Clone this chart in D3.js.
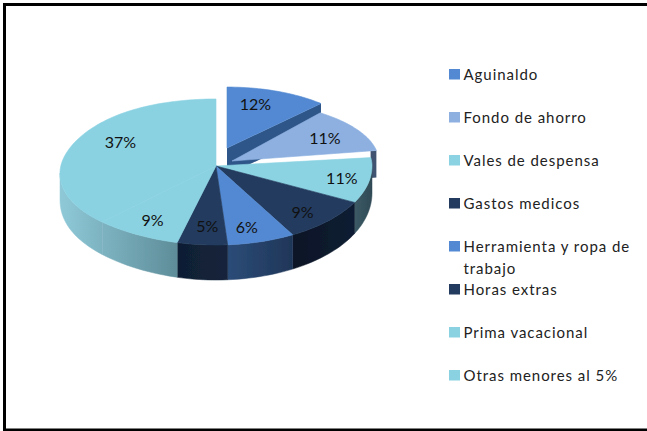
<!DOCTYPE html>
<html><head><meta charset="utf-8">
<script src="https://cdn.jsdelivr.net/npm/d3@7/dist/d3.min.js"></script>
<style>html,body{margin:0;padding:0;background:#fff}svg{display:block}</style></head>
<body><div id="chart"></div>
<script>
const categories = ["Aguinaldo","Fondo de ahorro","Vales de despensa","Gastos medicos","Herramienta y ropa de trabajo","Horas extras","Prima vacacional","Otras menores al 5%"];
const values = [12,11,11,9,6,5,9,37];
const topColors = ["#5289d2","#8db0e0","#8bd3e3","#223b5e","#5289d2","#223b5e","#8ad2e2","#8ad2e2"];
const wallFrom = ["#2f5688","#3f5370","#3c5a66","#0c1626","#2c4c78","#101e33","#8fc9d8","#8fc9d8"];
const wallTo = ["#2f5688","#3f5370","#2f4a55","#101d31","#1f3658","#14243b","#5e8d99","#5e8d99"];
const W=647,H=431,cx=216,cy=166,rx=156,ryUp=67,ryDown=79,depthSide=27,depthFront=35,leftSag=7,frontWarp=.096;
const pulls={0:{dx:11,dy:-18,sx:.88,sy:.91,turn:[0,0]},1:{dx:16,dy:-5,sx:.94,sy:.9,turn:[-.108,-.05]}};
const cutFrom={0:0,1:.96};
const labelNudge=[[-12,2],[-7,3],[3,1],[-4.5,3],[-5.7,1],[3,-2],[0,0],[19,-6]];
const svg=d3.select("#chart").append("svg").attr("width",W).attr("height",H);
const defs=svg.append("defs");
defs.append("filter").attr("id","soft").append("feGaussianBlur").attr("stdDeviation",.5);
svg.append("rect").attr("x",4.5).attr("y",4.5).attr("width",W+10).attr("height",H-5.5)
  .attr("fill","#fff").attr("stroke","#000").attr("stroke-width",3);
const arcs=d3.pie().sort(null).value(d=>d)(values);
function proj(a0,r,i){
  const p=pulls[i]||{dx:0,dy:0,sx:1,sy:1};
  let a=a0;
  if(pulls[i]){const d=arcs[i],t=(a0-d.startAngle)/(d.endAngle-d.startAngle);a=a0+p.turn[0]+(p.turn[1]-p.turn[0])*t;}
  else if(a>Math.PI/2&&a<Math.PI) a-=frontWarp*Math.sin(2*(a-Math.PI/2));
  const c=Math.cos(a),s=Math.sin(a);
  const sag=s<0?leftSag*Math.pow(s,4)*r:0;
  return [cx+p.dx+rx*r*p.sx*s, cy+p.dy-r*p.sy*c*(c>0?ryUp:ryDown)+sag];
}
const depth=a=>{const c=Math.cos(a);return depthSide+(c<0?(depthFront-depthSide)*-c:0);};
const line=d3.line();
const sample=(a0,a1)=>{const n=Math.max(2,Math.ceil((a1-a0)/.03));return d3.range(n+1).map(k=>a0+(a1-a0)*k/n);};
const pie=svg.append("g").attr("filter","url(#soft)");
const leftShare=arcs[5].endAngle;
arcs.forEach((d,i)=>{
  const g=pie.append("g");
  if(pulls[i]){ // end cut face of a pulled slice
    const start=proj(d.endAngle,cutFrom[i],i),e=proj(d.endAngle,1,i),h=depth(d.endAngle);
    g.append("path").attr("d",line([start,e,[e[0],e[1]+h],[start[0],start[1]+h]])+"Z").attr("fill",wallFrom[i]);
  }
  const a0=Math.max(d.startAngle,Math.PI/2),a1=Math.min(d.endAngle,Math.PI*1.5);
  if(a1>a0){
    const upper=sample(a0,a1).map(a=>proj(a,1,i));
    const lower=sample(a0,a1).reverse().map(a=>{const p=proj(a,1,i);return [p[0],p[1]+depth(a)];});
    const xs=upper.map(p=>p[0]);
    const id="wall"+i;
    const joined=i>=6; // the last two slices share one wall gradient
    const grad=defs.append("linearGradient").attr("id",id).attr("gradientUnits","userSpaceOnUse")
      .attr("x1",joined?proj(Math.PI*1.5,1,i)[0]:d3.min(xs))
      .attr("x2",joined?proj(leftShare,1,i)[0]:d3.max(xs)).attr("y1",0).attr("y2",0);
    grad.append("stop").attr("offset",0).attr("stop-color",wallFrom[i]);
    grad.append("stop").attr("offset",1).attr("stop-color",wallTo[i]);
    g.append("path").attr("d",line(upper.concat(lower))+"Z").attr("fill",`url(#${id})`).attr("stroke",`url(#${id})`).attr("stroke-width",.5);
  }
});
arcs.forEach((d,i)=>{
  const pts=[proj(0,0,i)].concat(sample(d.startAngle,d.endAngle).map(a=>proj(a,1,i)));
  pie.append("path").attr("d",line(pts)+"Z").attr("fill",topColors[i]).attr("stroke",topColors[i]).attr("stroke-width",.6);
});
const font="Lato,'Open Sans',sans-serif";
svg.append("g").selectAll("text").data(arcs).join("text")
  .attr("x",(d,i)=>proj((d.startAngle+d.endAngle)/2,.8,i)[0]+labelNudge[i][0])
  .attr("y",(d,i)=>proj((d.startAngle+d.endAngle)/2,.8,i)[1]+labelNudge[i][1]+5.5)
  .attr("text-anchor","middle").attr("font-family",font).attr("font-size",16).attr("fill","#111")
  .text(d=>d.value+"%");
const yLegend=d3.scaleLinear().domain([0,1]).range([74,117]);
const legend=svg.append("g").attr("font-family",font).attr("font-size",15).attr("letter-spacing",.95).attr("fill","#222");
categories.forEach((c,i)=>{
  const y=yLegend(i);
  legend.append("rect").attr("x",449).attr("y",y-5).attr("width",11).attr("height",10.5).attr("fill",topColors[i]);
  const t=legend.append("text").attr("x",463.5).attr("y",y+5.5);
  if(i===4){
    t.append("tspan").attr("x",463.5).text("Herramienta y ropa de");
    t.append("tspan").attr("x",463.5).attr("dy",22).text("trabajo");
  } else t.text(c);
});
</script></body></html>
